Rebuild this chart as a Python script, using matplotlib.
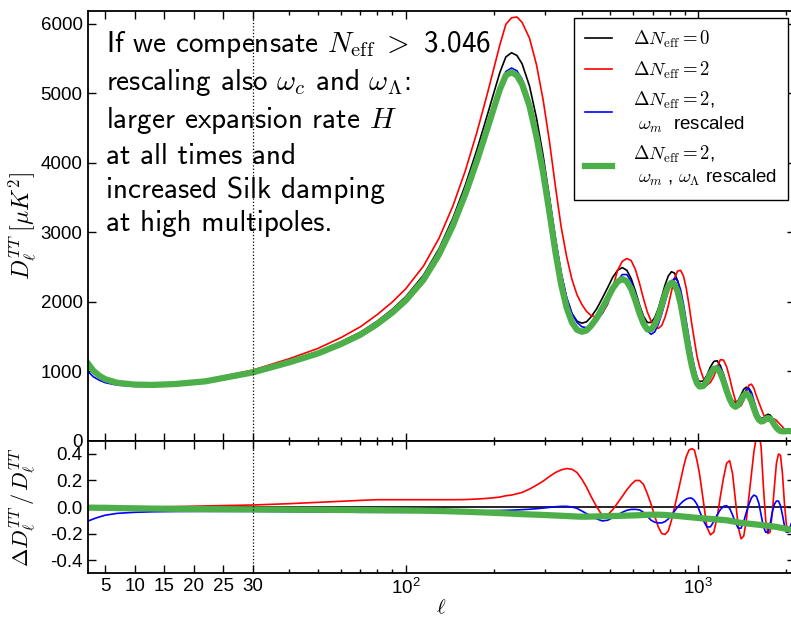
import numpy as np
import matplotlib
matplotlib.use("Agg")
import matplotlib.pyplot as plt

plt.rcParams["font.family"] = ["Liberation Sans", "DejaVu Sans"]
plt.rcParams["mathtext.fontset"] = "cm"
plt.rcParams["axes.unicode_minus"] = False

# multipoles
ell = [2, 3, 4, 5, 7, 10, 13, 17, 22, 30,
       40, 50, 60, 70, 80, 90, 100, 115, 130, 145,
       160, 175, 190, 200, 210, 220, 230, 240, 250, 265,
       280, 295, 310, 325, 340, 355, 370, 385, 400, 415,
       430, 450, 470, 490, 510, 530, 550, 570, 590, 610,
       630, 650, 670, 690, 710, 730, 750, 770, 790, 810,
       830, 850, 870, 890, 910, 930, 950, 970, 990, 1010,
       1040, 1070, 1100, 1130, 1160, 1190, 1220, 1250, 1280, 1310,
       1340, 1370, 1400, 1430, 1460, 1490, 1520, 1550, 1580, 1610,
       1640, 1670, 1700, 1730, 1760, 1790, 1820, 1850, 1880, 1910,
       1940, 1970, 2000, 2030, 2060, 2100]

# D_l^TT [muK^2]
cl_ref = [1125, 1010, 940, 890, 840, 815, 812, 828, 868, 1000,
          1150, 1280, 1420, 1560, 1720, 1890, 2070, 2380, 2760, 3200,
          3680, 4180, 4680, 5000, 5300, 5520, 5580, 5540, 5420, 5100,
          4640, 4100, 3500, 2900, 2400, 2050, 1830, 1720, 1690, 1710,
          1780, 1900, 2050, 2200, 2350, 2450, 2490, 2450, 2330, 2150,
          1950, 1790, 1700, 1700, 1770, 1900, 2070, 2240, 2370, 2430,
          2410, 2300, 2120, 1880, 1620, 1380, 1170, 1010, 900, 850,
          860, 940, 1060, 1140, 1150, 1080, 950, 800, 670, 580,
          550, 580, 660, 740, 770, 740, 650, 530, 420, 350,
          320, 330, 360, 380, 370, 330, 270, 220, 185, 165,
          160, 160, 165, 170, 165, 160]

cl_neff = [1125, 1010, 940, 890, 840, 815, 812, 830, 875, 1015,
           1179, 1325, 1481, 1638, 1815, 1994, 2184, 2511, 2912, 3376,
           3886, 4431, 4984, 5350, 5698, 5989, 6082, 6094, 6016, 5789,
           5406, 4900, 4305, 3654, 3072, 2645, 2320, 2100, 1960, 1860,
           1800, 1780, 1830, 1960, 2200, 2450, 2580, 2620, 2590, 2460,
           2260, 2040, 1850, 1720, 1640, 1615, 1656, 1776, 1943, 2150,
           2340, 2440, 2450, 2370, 2190, 1950, 1680, 1444, 1215, 1063,
           903, 799, 837, 923, 1058, 1166, 1159, 1064, 905, 725,
           578, 493, 502, 577, 693, 799, 813, 753, 643, 553,
           464, 380, 324, 304, 300, 314, 311, 293, 259, 229,
           200, 165, 144, 138, 137, 144]

cl_wm = [1003, 919, 870, 835, 800, 782, 783, 800, 839, 967,
         1110, 1233, 1366, 1498, 1651, 1814, 1987, 2290, 2661, 3091,
         3562, 4050, 4520, 4820, 5100, 5310, 5360, 5320, 5200, 4900,
         4500, 4020, 3470, 2906, 2412, 2060, 1830, 1703, 1639, 1625,
         1655, 1729, 1835, 1980, 2162, 2303, 2390, 2389, 2288, 2111,
         1907, 1718, 1581, 1530, 1566, 1672, 1822, 1994, 2157, 2284,
         2338, 2300, 2173, 1965, 1717, 1472, 1248, 1061, 918, 825,
         774, 799, 901, 1015, 1081, 1058, 955, 808, 663, 545,
         484, 487, 554, 659, 739, 755, 696, 578, 454, 361,
         301, 281, 292, 308, 322, 317, 275, 230, 193, 167,
         150, 138, 134, 138, 140, 144]

cl_wm_wl = [1119, 1005, 934, 885, 833, 807, 802, 816, 854, 982,
            1127, 1253, 1389, 1524, 1679, 1843, 2016, 2313, 2677, 3094,
            3548, 4017, 4483, 4780, 5056, 5255, 5301, 5252, 5127, 4814,
            4371, 3854, 3283, 2714, 2242, 1911, 1702, 1596, 1567, 1585,
            1652, 1765, 1907, 2048, 2190, 2286, 2326, 2291, 2181, 2015,
            1829, 1683, 1600, 1601, 1667, 1790, 1948, 2106, 2223, 2274,
            2251, 2144, 1972, 1745, 1500, 1275, 1079, 929, 826, 779,
            786, 857, 965, 1035, 1042, 976, 857, 720, 600, 517,
            488, 513, 581, 650, 675, 647, 567, 461, 365, 303,
            276, 284, 310, 326, 317, 282, 230, 187, 157, 139,
            135, 134, 138, 141, 137, 132]

# relative difference Delta D / D
ratio_ref = [0.0] * len(ell)

ratio_neff = [0, 0, 0, 0, 0, 0, 0, 0.003, 0.008, 0.015,
              0.025, 0.035, 0.043, 0.05, 0.055, 0.055, 0.055, 0.055, 0.055, 0.055,
              0.056, 0.06, 0.065, 0.07, 0.075, 0.085, 0.09, 0.1, 0.11, 0.135,
              0.165, 0.195, 0.23, 0.26, 0.28, 0.29, 0.285, 0.26, 0.21, 0.15,
              0.08, 0.0, -0.065, -0.06, -0.02, 0.03, 0.08, 0.13, 0.17, 0.2,
              0.2, 0.17, 0.1, 0.02, -0.07, -0.15, -0.2, -0.207, -0.18, -0.1,
              0.0, 0.1, 0.2, 0.3, 0.38, 0.43, 0.44, 0.43, 0.35, 0.25,
              0.05, -0.15, -0.21, -0.19, -0.08, 0.08, 0.22, 0.33, 0.35, 0.25,
              0.05, -0.15, -0.24, -0.22, -0.1, 0.08, 0.25, 0.42, 0.53, 0.58,
              0.45, 0.15, -0.1, -0.2, -0.19, -0.05, 0.15, 0.33, 0.4, 0.39,
              0.25, 0.03, -0.13, -0.19, -0.17, -0.1]

ratio_wm = [-0.108, -0.09, -0.075, -0.062, -0.048, -0.04, -0.036, -0.034, -0.033, -0.033,
            -0.035, -0.037, -0.038, -0.04, -0.04, -0.04, -0.04, -0.038, -0.036, -0.034,
            -0.032, -0.03, -0.028, -0.027, -0.026, -0.025, -0.024, -0.022, -0.02, -0.017,
            -0.013, -0.008, -0.003, 0.002, 0.005, 0.005, 0.0, -0.01, -0.03, -0.05,
            -0.07, -0.09, -0.105, -0.1, -0.08, -0.06, -0.04, -0.025, -0.018, -0.018,
            -0.022, -0.04, -0.07, -0.1, -0.115, -0.12, -0.12, -0.11, -0.09, -0.06,
            -0.03, 0.0, 0.025, 0.045, 0.06, 0.067, 0.067, 0.05, 0.02, -0.03,
            -0.1, -0.15, -0.15, -0.11, -0.06, -0.02, 0.005, 0.01, -0.01, -0.06,
            -0.12, -0.16, -0.16, -0.11, -0.04, 0.02, 0.07, 0.09, 0.08, 0.03,
            -0.06, -0.15, -0.19, -0.19, -0.13, -0.04, 0.02, 0.045, 0.045, 0.01,
            -0.06, -0.14, -0.19, -0.19, -0.15, -0.1]

ratio_wm_wl = [-0.005, -0.005, -0.006, -0.006, -0.008, -0.01, -0.012, -0.014, -0.016, -0.018,
               -0.02, -0.021, -0.022, -0.023, -0.024, -0.025, -0.026, -0.028, -0.03, -0.033,
               -0.036, -0.039, -0.042, -0.044, -0.046, -0.048, -0.05, -0.052, -0.054, -0.056,
               -0.058, -0.06, -0.062, -0.064, -0.066, -0.068, -0.07, -0.072, -0.073, -0.073,
               -0.072, -0.071, -0.07, -0.069, -0.068, -0.067, -0.066, -0.065, -0.064, -0.063,
               -0.062, -0.06, -0.059, -0.058, -0.058, -0.058, -0.059, -0.06, -0.062, -0.064,
               -0.066, -0.068, -0.07, -0.072, -0.074, -0.076, -0.078, -0.08, -0.082, -0.084,
               -0.086, -0.088, -0.09, -0.092, -0.094, -0.096, -0.098, -0.1, -0.104, -0.108,
               -0.112, -0.116, -0.12, -0.122, -0.124, -0.126, -0.128, -0.13, -0.132, -0.134,
               -0.136, -0.138, -0.14, -0.142, -0.144, -0.146, -0.148, -0.15, -0.153, -0.156,
               -0.159, -0.162, -0.165, -0.168, -0.17, -0.172]

labels = [r"$\Delta N_{\rm eff}=0$",
          r"$\Delta N_{\rm eff}=2$",
          "$\\Delta N_{\\rm eff}=2$,\n $\\omega_m$  rescaled",
          "$\\Delta N_{\\rm eff}=2$,\n $\\omega_m$ , $\\omega_\\Lambda$ rescaled"]

note = ("If we compensate $N_{\\rm eff}\\;>$ 3.046\n"
        "rescaling also $\\omega_c$ and $\\omega_\\Lambda$:\n"
        "larger expansion rate $H$\n"
        "at all times and\n"
        "increased Silk damping\n"
        "at high multipoles.")

# linear below l=30, log above
L30 = np.log10(30.0)
K = 0.020164


def fwd(x):
    x = np.asarray(x, dtype=float)
    with np.errstate(divide="ignore", invalid="ignore"):
        lg = np.log10(np.where(x > 0, x, 1e-300))
    return np.where(x < 30, L30 + (x - 30) * K, lg)


def inv(u):
    u = np.asarray(u, dtype=float)
    return np.where(u < L30, 30 + (u - L30) / K, 10 ** np.minimum(u, 300))


colors = ["black", "red", "blue", "#4daf4a"]
widths = [1.2, 1.2, 1.2, 4.5]

W, H = 791.0, 621.0
left, right = 87.5, 795.0
fig = plt.figure(figsize=(W / 100, H / 100), dpi=100)
ax1 = fig.add_axes([left / W, 1 - 440.7 / H, (right - left) / W, (440.7 - 11) / H])
ax2 = fig.add_axes([left / W, 1 - 573.3 / H, (right - left) / W, (573.3 - 440.7) / H],
                   sharex=ax1)

for y, c, lw, lab in zip([cl_ref, cl_neff, cl_wm, cl_wm_wl], colors, widths, labels):
    ax1.plot(ell, y, color=c, lw=lw, label=lab)
for y, c, lw in zip([ratio_ref, ratio_neff, ratio_wm, ratio_wm_wl], colors, widths):
    ax2.plot(ell, y, color=c, lw=lw)

for ax in (ax1, ax2):
    ax.axvline(30, color="black", ls=":", lw=0.9)
    ax.tick_params(which="both", direction="in", top=True, right=True, labelsize=13.5)
    ax.tick_params(which="major", length=6, width=1)
    ax.tick_params(which="minor", length=3, width=1)
    for s in ax.spines.values():
        s.set_linewidth(1.3)

ax1.set_xscale("function", functions=(fwd, inv))
ax1.set_xlim(2, 2141)
ax2.set_xticks([5, 10, 15, 20, 25, 30, 100, 1000])
ax2.set_xticklabels(["5", "10", "15", "20", "25", "30",
                     r"$\mathregular{10^2}$", r"$\mathregular{10^3}$"])
minor = [40, 50, 60, 70, 80, 90, 200, 300, 400, 500, 600, 700, 800, 900, 2000]
ax2.set_xticks(minor, minor=True)
ax2.set_xticklabels([""] * len(minor), minor=True)
plt.setp(ax1.get_xticklabels(), visible=False)

ax1.set_ylim(0, 6180)
ax1.set_yticks([0, 1000, 2000, 3000, 4000, 5000, 6000])
ax2.set_ylim(-0.5, 0.5)
ax2.set_yticks([-0.4, -0.2, 0.0, 0.2, 0.4])

ax1.set_ylabel(r"$D_\ell^{TT}\;[\mu K^2]$", fontsize=17)
ax2.set_ylabel(r"$\Delta D_\ell^{TT}\,/\,D_\ell^{TT}$", fontsize=16)
ax2.set_xlabel(r"$\ell$", fontsize=15, labelpad=0)
ax1.yaxis.set_label_coords(-0.07, 0.5)
ax2.yaxis.set_label_coords(-0.07, 0.5)

ax1.text(0.026, 0.957, note, transform=ax1.transAxes, va="top", ha="left",
         family=["cmss10", "DejaVu Sans"], fontsize=21, linespacing=1.3)

leg = ax1.legend(loc="upper right", fontsize=13.5, handlelength=1.45,
                 handletextpad=1.1, borderaxespad=0.36, borderpad=0.6,
                 labelspacing=0.5, fancybox=False, framealpha=1)
leg.get_frame().set_edgecolor("black")
leg.get_frame().set_linewidth(1.0)

fig.savefig("out.png", dpi=100)
